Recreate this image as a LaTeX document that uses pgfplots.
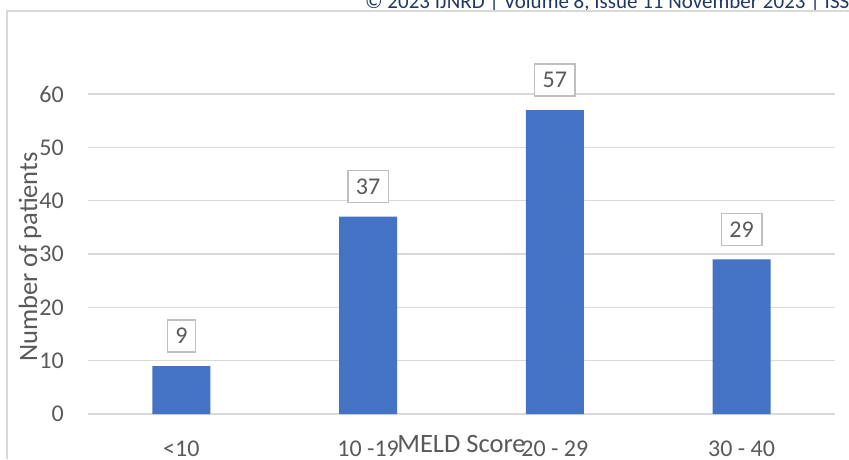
\documentclass[border=0pt]{standalone}
\usepackage{fontspec}
\setmainfont{Carlito}
\usepackage{pgfplots}
\pgfplotsset{compat=1.18}
\definecolor{barblue}{HTML}{4472C4}
\definecolor{gridgrey}{HTML}{D9D9D9}
\definecolor{labelgrey}{HTML}{595959}
\definecolor{boxgrey}{HTML}{BFBFBF}
\definecolor{headnavy}{HTML}{1F3864}
\newcommand\chartfont{\fontsize{24}{28}\selectfont}
\newcommand\titlefont{\fontsize{26.5}{30}\selectfont}
\begin{document}
\begin{tikzpicture}
\path[use as bounding box] (0pt,0pt) rectangle (849pt,-459pt);
% page header and chart frame
\node[anchor=base west, inner sep=0pt, text=headnavy, font=\fontsize{21}{25}\selectfont]
  at (365pt,-8.5pt) {© 2023 IJNRD | Volume 8, Issue 11 November 2023 | ISSN: 2456-4184};
\draw[gridgrey, line width=1.5pt] (7pt,-459pt) -- (7pt,-11pt) -- (849pt,-11pt);
\begin{axis}[
  at={(88pt,-414pt)}, anchor=south west,
  scale only axis, width=747pt, height=320pt,
  xmin=-0.5, xmax=3.5, ymin=0, ymax=60,
  clip=false,
  ybar, bar width=58pt,
  axis line style={draw=none},
  tick style={draw=none},
  ymajorgrids,
  major grid style={draw=gridgrey, line width=1.5pt},
  xtick={0,1,2,3},
  xticklabels={{<10},{10 -19},{20 - 29},{30 - 40}},
  ytick={0,10,...,60},
  /pgf/number format/assume math mode=true,
  tick label style={font=\chartfont, text=labelgrey, inner sep=0pt},
  yticklabel style={anchor=east, xshift=-24pt},
  xticklabel style={anchor=base, yshift=-38pt},
  xlabel={MELD Score},
  ylabel={Number of patients},
  label style={font=\titlefont, text=labelgrey, inner sep=0pt},
  x label style={at={(axis description cs:0.5,0)}, anchor=base, yshift=-38pt},
  y label style={at={(axis description cs:0,0.5)}, rotate=0, anchor=center,
    yshift=58pt, xshift=-3pt},
  nodes near coords,
  nodes near coords align={center},
  every node near coord/.append style={
    anchor=center, yshift=30pt, font=\chartfont, text=labelgrey,
    draw=boxgrey, line width=1.5pt, fill=white,
    inner xsep=8pt, inner ysep=0pt, minimum height=32pt},
]
\addplot[fill=barblue, draw=none] coordinates {(0,9) (1,37) (2,57) (3,29)};
\end{axis}
\end{tikzpicture}
\end{document}
